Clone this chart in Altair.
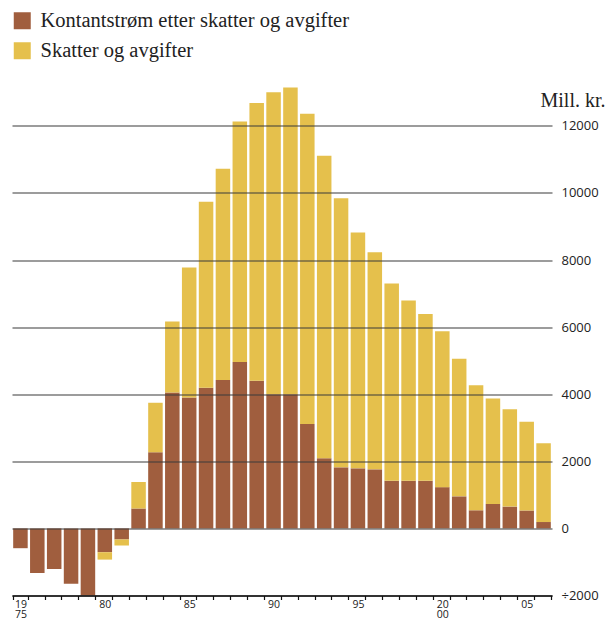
import altair as alt
import pandas as pd

years = list(range(1975, 2007))
kontantstrom = [-590, -1330, -1210, -1650, -2000, -710, -330, 590, 2270, 4050,
                3900, 4190, 4420, 4960, 4400, 4000, 4000, 3110, 2090, 1820,
                1790, 1760, 1420, 1420, 1420, 1230, 955, 540, 730, 650, 530, 190]
skatter = [0, 0, 0, 0, 0, -220, -180, 790, 1475, 2120,
           3880, 5550, 6300, 7170, 8280, 9000, 9140, 9250, 9020, 8020,
           7030, 6470, 5880, 5370, 4970, 4650, 4105, 3730, 3140, 2900, 2650, 2350]
series = ["Kontantstrøm etter skatter og avgifter", "Skatter og avgifter"]
colors = ["#A05E3E", "#E5C04C"]
tick_years = [1975, 1980, 1985, 1990, 1995, 2000, 2005]
tick_labels = [["19", "75"], "80", "85", "90", "95", ["20", "00"], "05"]
y_ticks = [-2000, 0, 2000, 4000, 6000, 8000, 10000, 12000]

rows = []
for i, yr in enumerate(years):
    rows.append({"year": yr, "serie": series[0], "verdi": kontantstrom[i], "ord": 0})
    rows.append({"year": yr, "serie": series[1], "verdi": skatter[i], "ord": 1})
df = pd.DataFrame(rows)

def lab(v):
    if isinstance(v, list):
        return "[" + ",".join("'" + s + "'" for s in v) + "]"
    return "'" + v + "'"

expr = "''"
for yv, lv in reversed(list(zip(tick_years, tick_labels))):
    expr = f"datum.value == {yv} ? {lab(lv)} : ({expr})"

chart = alt.Chart(df).mark_bar().encode(
    x=alt.X("year:O",
            scale=alt.Scale(paddingInner=0.14, paddingOuter=0.07),
            axis=alt.Axis(title=None, labelExpr=expr, labelAngle=0,
                          tickBand="extent", tickSize=4, tickColor="#111",
                          tickWidth=1.2, domainColor="#111", domainWidth=1.4,
                          labelFont="Open Sans", labelFontSize=10.5,
                          labelColor="#222", labelPadding=0,
                          labelLineHeight=9.5, zindex=1)),
    y=alt.Y("verdi:Q", stack="zero",
            scale=alt.Scale(domain=[-2000, 13500], nice=False, zero=False),
            axis=alt.Axis(orient="right", values=y_ticks, grid=True,
                          gridColor="#3a3a3a", gridWidth=1.2, domain=False,
                          ticks=False, labelAlign="left", labelPadding=9,
                          labelBaseline="middle",
                          labelFont="Open Sans", labelFontSize=13,
                          labelColor="#222",
                          labelExpr="datum.value < 0 ? '÷' + format(abs(datum.value), 'd') : format(datum.value, 'd')",
                          title="Mill. kr.", titleAngle=0, titleAlign="left",
                          titleBaseline="alphabetic", titleX=-12, titleY=31,
                          titleFont="Liberation Serif", titleFontSize=20,
                          titleFontWeight="normal", titleColor="#222",
                          zindex=1)),
    color=alt.Color("serie:N",
                    scale=alt.Scale(domain=series, range=colors),
                    legend=alt.Legend(title=None, orient="none", legendX=0,
                                      legendY=-65, symbolType="square",
                                      symbolSize=289, symbolStrokeWidth=0,
                                      symbolOpacity=1,
                                      labelFont="Liberation Serif",
                                      labelFontSize=20.5, labelColor="#222",
                                      labelOffset=8, rowPadding=9, padding=0,
                                      labelLimit=500)),
    order=alt.Order("ord:Q", sort="ascending"),
).properties(
    width=540, height=520,
    autosize=alt.AutoSizeParams(type="none"),
    padding={"left": 4, "top": 67.5, "right": 56, "bottom": 22.5},
).configure_view(stroke=None)

chart.save("out.html", embed_options={"renderer": "svg", "actions": False})
